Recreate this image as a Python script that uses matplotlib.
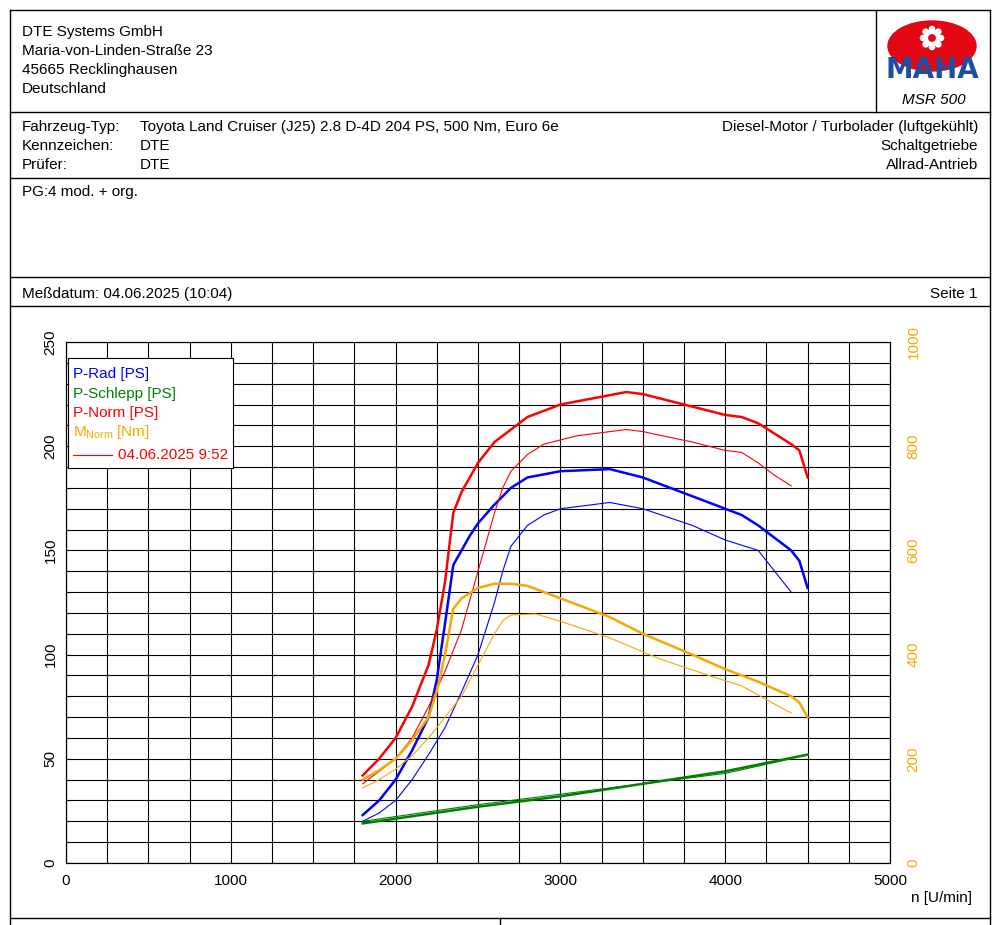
import math
import matplotlib
matplotlib.use("Agg")
import matplotlib.pyplot as plt
from matplotlib.lines import Line2D
from matplotlib.patches import Ellipse, Rectangle, Circle

plt.rcParams['font.family'] = ['Liberation Sans', 'DejaVu Sans']

rpm_rad = [1800, 1900, 2000, 2100, 2200, 2250, 2300, 2350, 2400, 2450, 2500, 2600, 2700, 2800, 3000, 3300, 3500, 3800, 4000, 4100, 4200, 4300, 4400, 4450, 4500]
p_rad = [23, 30, 40, 54, 70, 88, 115, 143, 150, 157, 163, 172, 180, 185, 188, 189, 185, 176, 170, 167, 162, 156, 150, 145, 132]
rpm_rad_ref = [1800, 1900, 2000, 2100, 2200, 2300, 2400, 2500, 2600, 2650, 2700, 2800, 2900, 3000, 3300, 3500, 3800, 4000, 4200, 4300, 4400]
p_rad_ref = [20, 24, 30, 40, 52, 65, 82, 100, 125, 140, 152, 162, 167, 170, 173, 170, 162, 155, 150, 140, 130]

rpm_norm = [1800, 1900, 2000, 2100, 2200, 2250, 2300, 2350, 2400, 2450, 2500, 2600, 2700, 2800, 3000, 3200, 3400, 3500, 3800, 4000, 4100, 4200, 4300, 4400, 4450, 4500]
p_norm = [42, 50, 60, 75, 95, 112, 135, 168, 178, 185, 192, 202, 208, 214, 220, 223, 226, 225, 219, 215, 214, 211, 206, 201, 198, 185]
rpm_norm_ref = [1800, 1900, 2000, 2100, 2200, 2300, 2400, 2500, 2600, 2650, 2700, 2800, 2900, 3100, 3400, 3500, 3800, 4000, 4100, 4200, 4300, 4400]
p_norm_ref = [38, 44, 50, 60, 75, 92, 112, 140, 168, 180, 188, 196, 201, 205, 208, 207, 202, 198, 197, 192, 186, 181]

rpm_m = [1800, 1900, 2000, 2100, 2200, 2250, 2300, 2350, 2400, 2450, 2500, 2600, 2700, 2800, 3000, 3300, 3500, 3800, 4000, 4200, 4400, 4450, 4500]
m_norm = [160, 178, 200, 236, 280, 330, 400, 488, 508, 518, 528, 536, 536, 532, 508, 472, 440, 400, 372, 348, 320, 308, 280]
rpm_m_ref = [1800, 1900, 2000, 2100, 2200, 2300, 2400, 2500, 2600, 2650, 2700, 2850, 3000, 3300, 3600, 3900, 4100, 4300, 4400]
m_norm_ref = [144, 160, 180, 206, 240, 280, 320, 380, 440, 465, 476, 478, 464, 432, 392, 360, 340, 305, 288]

rpm_s = [1800, 2500, 3000, 3500, 4000, 4500]
p_schlepp = [19, 27, 32, 38, 44, 52]
rpm_s_ref = [1800, 2500, 3000, 3500, 4000, 4400]
p_schlepp_ref = [20, 28, 33, 38, 43, 50]

fig = plt.figure(figsize=(10, 9.25), dpi=100)
FS = 11

def X(x): return x / 1000
def Y(y): return 1 - y / 925
def hline(y, x0=10, x1=990, lw=1):
    fig.add_artist(Line2D([X(x0), X(x1)], [Y(y), Y(y)], color='black', lw=lw, transform=fig.transFigure))
def vline(x, y0, y1, lw=1):
    fig.add_artist(Line2D([X(x), X(x)], [Y(y0), Y(y1)], color='black', lw=lw, transform=fig.transFigure))
def txt(x, y, s, **kw):
    fig.text(X(x), Y(y), s, fontsize=FS, va='center', **kw)

vline(10, 10, 925); vline(990, 10, 925)
hline(10); hline(112); hline(178); hline(277); hline(306); hline(918)
vline(876, 10, 112); vline(500, 918, 925)

txt(22, 32, "DTE Systems GmbH")
txt(22, 51, "Maria-von-Linden-Straße 23")
txt(22, 70, "45665 Recklinghausen")
txt(22, 89, "Deutschland")
txt(22, 127, "Fahrzeug-Typ:"); txt(140, 127, "Toyota Land Cruiser (J25) 2.8 D-4D 204 PS, 500 Nm, Euro 6e")
txt(22, 146, "Kennzeichen:"); txt(140, 146, "DTE")
txt(22, 165, "Prüfer:"); txt(140, 165, "DTE")
txt(978, 127, "Diesel-Motor / Turbolader (luftgekühlt)", ha='right')
txt(978, 146, "Schaltgetriebe", ha='right')
txt(978, 165, "Allrad-Antrieb", ha='right')
txt(22, 192, "PG:4 mod. + org.")
txt(22, 294, "Meßdatum: 04.06.2025 (10:04)")
txt(978, 294, "Seite 1", ha='right')

# logo
lax = fig.add_axes([X(880), Y(88), X(105), Y(16) - Y(88)])
lax.set_xlim(0, 105); lax.set_ylim(72, 0); lax.axis('off')
lax.add_patch(Ellipse((52, 30), 88, 50, color='#e30613'))
lax.add_patch(Circle((52, 22), 8, color='white'))
lax.add_patch(Circle((52, 22), 3.2, color='#e30613'))
for a in range(8):
    ang = a * math.pi / 4
    lax.add_patch(Circle((52 + 9 * math.cos(ang), 22 + 9 * math.sin(ang)), 2.6, color='white'))
lax.text(52, 54, "MAHA", color='#1d4fa0', fontsize=20, fontweight='bold', ha='center', va='center',
         family='DejaVu Sans')
txt(966, 100, "MSR 500", ha='right', style='italic')

# chart
ax = fig.add_axes([X(66), Y(863), X(890) - X(66), Y(342) - Y(863)])
ax.set_xlim(0, 5000); ax.set_ylim(0, 250)
ax.set_xticks(range(0, 5001, 250), minor=True)
ax.set_xticks(range(0, 5001, 1000))
ax.set_yticks(range(0, 251, 10), minor=True)
ax.set_yticks(range(0, 251, 50))
ax.grid(which='both', color='black', lw=0.8)
ax.tick_params(which='both', length=0, labelsize=FS)
ax.tick_params(axis='y', labelrotation=90, pad=6)
for l in ax.get_yticklabels(): l.set_va('center')
ax.tick_params(axis='x', pad=8)
ax2 = ax.twinx()
ax2.set_ylim(0, 1000)
ax2.set_yticks(range(0, 1001, 200))
ax2.tick_params(length=0, labelsize=FS, labelcolor='#f5a800', labelrotation=90, pad=12)
for l in ax2.get_yticklabels(): l.set_va('center')
fig.text(X(972), Y(898), "n [U/min]", fontsize=FS, ha='right', va='center')

blue, green, red, orange = '#0000ff', '#008000', '#ff0000', '#f5a800'
ax.plot(rpm_rad, p_rad, color=blue, lw=1.8)
ax.plot(rpm_rad_ref, p_rad_ref, color=blue, lw=0.8)
ax.plot(rpm_norm, p_norm, color=red, lw=1.8)
ax.plot(rpm_norm_ref, p_norm_ref, color=red, lw=0.8)
ax.plot(rpm_s, p_schlepp, color=green, lw=1.8)
ax.plot(rpm_s_ref, p_schlepp_ref, color=green, lw=0.8)
ax2.plot(rpm_m, m_norm, color=orange, lw=1.8)
ax2.plot(rpm_m_ref, m_norm_ref, color=orange, lw=0.8)

ax2.add_patch(Rectangle((X(68) - X(66), (Y(468) - Y(863)) / (Y(342) - Y(863))),
              (X(233) - X(68)) / (X(890) - X(66)), (Y(358) - Y(468)) / (Y(342) - Y(863)),
              transform=ax.transAxes, facecolor='white', edgecolor='black', lw=0.8, zorder=5))
def ltxt(y, s, c):
    fig.text(X(73), Y(y), s, color=c, fontsize=FS, va='center', zorder=6)
ltxt(374, "P-Rad [PS]", blue)
ltxt(394, "P-Schlepp [PS]", green)
ltxt(413, "P-Norm [PS]", red)
ltxt(432, r"M$_{\mathregular{Norm}}$ [Nm]", orange)
fig.add_artist(Line2D([X(73), X(112)], [Y(455), Y(455)], color=red, lw=0.8, zorder=6))
fig.text(X(118), Y(455), "04.06.2025 9:52", color=red, fontsize=FS, va='center', zorder=6)

fig.savefig("out.png", dpi=100)
